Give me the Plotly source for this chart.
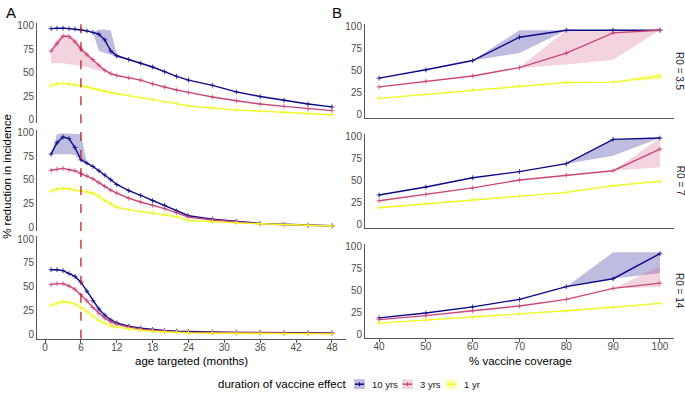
import plotly.graph_objects as go
from plotly.subplots import make_subplots

# ---------------- data ----------------
ages = [1, 2, 3, 4, 5, 6, 7, 8, 9, 10, 11, 12, 14, 16, 18, 20, 22, 24, 28, 32, 36, 40, 44, 48]
coverage = [40, 50, 60, 70, 80, 90, 100]
durations = ["10 yrs", "3 yrs", "1 yr"]
r0_labels = ["R0 = 3.5", "R0 = 7", "R0 = 14"]
age_ticks = [0, 6, 12, 18, 24, 30, 36, 42, 48]
cov_ticks = [40, 50, 60, 70, 80, 90, 100]
y_ticks = [0, 25, 50, 75, 100]
vline_month = 6

# Panel A: reduction by age targeted
a35_10 = [97, 97.5, 97.5, 97, 96.5, 95.5, 94.5, 93, 91, 85, 73, 68, 64, 60, 56, 51, 46, 42, 36.5, 29.5, 24.5, 20.5, 16.5, 13.5]
a35_10_lo = [97, 97.5, 97.5, 97, 96.5, 95.5, 94.5, 93, 73, 71, 69, 66, 64, 60, 56, 51, 46, 42, 36.5, 29.5, 24.5, 20.5, 16.5, 13.5]
a35_10_hi = [97, 97.5, 97.5, 97, 96.5, 95.5, 94.5, 93, 96, 96, 95, 69, 64, 60, 56, 51, 46, 42, 36.5, 29.5, 24.5, 20.5, 16.5, 13.5]
a35_3 = [73, 81, 89, 88.5, 83, 75, 69, 64, 58, 52.5, 49, 47, 44.5, 42, 38, 34.5, 31.5, 29, 24, 20, 16.5, 14, 11.5, 9.5]
a35_3_lo = [60, 60, 60, 59, 58, 57, 56, 54, 52, 52.5, 49, 47, 44.5, 42, 38, 34.5, 31.5, 29, 24, 20, 16.5, 14, 11.5, 9.5]
a35_3_hi = [75, 86, 90, 90, 86, 79, 71, 65, 58, 52.5, 49, 47, 44.5, 42, 38, 34.5, 31.5, 29, 24, 20, 16.5, 14, 11.5, 9.5]
a35_1 = [36, 38, 38.5, 38, 37, 36, 34.5, 33, 31.5, 30, 28.5, 27.5, 25.5, 23.5, 21.5, 19, 17, 14.5, 12, 10, 9, 8, 6.5, 5]

a7_10 = [77, 89, 95, 93.5, 84, 71, 67.5, 64, 59.5, 55, 50, 45, 38.5, 33.5, 28, 23, 17, 12, 8.5, 6, 4, 3, 2, 1.5]
a7_10_lo = [77, 77, 77, 77, 76, 70, 67.5, 64, 59.5, 55, 50, 45, 38.5, 33.5, 28, 23, 17, 12, 8.5, 6, 4, 3, 2, 1.5]
a7_10_hi = [77, 98, 99, 98.5, 98, 98, 67.5, 64, 59.5, 55, 50, 45, 38.5, 33.5, 28, 23, 17, 12, 8.5, 6, 4, 3, 2, 1.5]
a7_3 = [60, 61, 62, 60.5, 59.5, 56.5, 54, 51, 47, 43, 39, 36, 30.5, 26.5, 23, 19.5, 15, 10.5, 7.5, 5.5, 3.5, 2.5, 1.8, 1.2]
a7_1 = [38, 40, 41, 40.5, 39, 38, 37.5, 36, 32.5, 28, 24.5, 21, 18.5, 16.5, 15, 13, 11, 7, 5.5, 4.5, 3.5, 2.5, 2, 1.2]

a14_10 = [68, 68, 67, 64, 61, 55, 45.5, 35.5, 27, 20.5, 15.5, 12.5, 9, 7, 5.5, 4.5, 3.8, 3.3, 2.9, 2.6, 2.4, 2.2, 2.1, 2]
a14_3 = [52.5, 53.5, 53.5, 51, 47.5, 42, 35.5, 28.5, 22.5, 17.5, 13.5, 11, 8, 6, 4.8, 3.8, 3.1, 2.7, 2.3, 2.1, 2, 1.9, 1.8, 1.7]
a14_1 = [31, 33, 34.5, 34, 32, 28.5, 24, 19, 15, 12, 9.5, 8, 6.2, 4.8, 3.8, 3, 2.4, 2, 1.7, 1.5, 1.3, 1.2, 1.1, 1]

# Panel B: reduction by coverage
b35_10 = [41.5, 51, 61.5, 88, 96, 96, 96]
b35_10_lo = [41.5, 51, 61.5, 70, 96, 96, 96]
b35_10_hi = [41.5, 51, 61.5, 96, 96, 96, 96]
b35_3 = [31.5, 38, 44, 53.5, 70, 93, 96]
b35_3_lo = [31.5, 38, 44, 53, 57, 62.5, 96]
b35_3_hi = [31.5, 38, 44, 54, 96, 96, 96]
b35_1 = [18.5, 23, 28, 32.5, 36.5, 37, 43.5]
b35_1_lo = [18.5, 23, 28, 32.5, 36.5, 37, 40]
b35_1_hi = [18.5, 23, 28, 32.5, 36.5, 37, 47.5]

b7_10 = [33.5, 42.5, 53, 60, 69, 96.5, 98]
b7_10_lo = [33.5, 42.5, 53, 60, 69, 78, 98]
b7_10_hi = [33.5, 42.5, 53, 60, 69, 96.5, 98]
b7_3 = [27, 34, 41.5, 50.5, 56, 61, 85.5]
b7_3_lo = [27, 34, 41.5, 50.5, 56, 61, 65]
b7_3_hi = [27, 34, 41.5, 50.5, 56, 61, 98]
b7_1 = [19, 23.5, 28, 32, 36.5, 44, 49]

b14_10 = [19, 24.5, 31.5, 40, 54.5, 63.5, 92]
b14_10_lo = [19, 24.5, 31.5, 40, 54.5, 63.5, 70]
b14_10_hi = [19, 24.5, 31.5, 40, 54.5, 93.5, 93.5]
b14_3 = [17, 21.5, 27, 32.5, 40, 52.5, 58.5]
b14_3_lo = [17, 21.5, 27, 32.5, 40, 52.5, 54]
b14_3_hi = [17, 21.5, 27, 32.5, 40, 52.5, 77.5]
b14_1 = [13, 16.5, 19.5, 23.5, 27, 31, 35.5]

# ---------------- styling ----------------
line_colors = ["#0D0887", "#CC4678", "#F0F921"]
band_colors = ["rgba(13,8,135,0.27)", "rgba(204,70,120,0.24)", "rgba(240,249,33,0.35)"]
W, H = 685, 402
FONT = "Liberation Sans, Arial, sans-serif"

left_rows = [
    [(a35_10, a35_10_lo, a35_10_hi), (a35_3, a35_3_lo, a35_3_hi), (a35_1, None, None)],
    [(a7_10, a7_10_lo, a7_10_hi), (a7_3, None, None), (a7_1, None, None)],
    [(a14_10, None, None), (a14_3, None, None), (a14_1, None, None)],
]
right_rows = [
    [(b35_10, b35_10_lo, b35_10_hi), (b35_3, b35_3_lo, b35_3_hi), (b35_1, b35_1_lo, b35_1_hi)],
    [(b7_10, b7_10_lo, b7_10_hi), (b7_3, b7_3_lo, b7_3_hi), (b7_1, None, None)],
    [(b14_10, b14_10_lo, b14_10_hi), (b14_3, b14_3_lo, b14_3_hi), (b14_1, None, None)],
]

fig = make_subplots(rows=3, cols=2)


def px_x(a, b):
    return [a / W, b / W]


def px_y(top, bottom):
    return [1 - bottom / H, 1 - top / H]


def pxx(v):
    return v / W


def pxy(v):
    return 1 - v / H


left_x_dom = px_x(37, 346)
right_x_dom = px_x(365, 674)
left_y_doms = [px_y(20.2, 121.8), px_y(128.1, 230.8), px_y(236.1, 339.9)]
right_y_doms = [px_y(21.3, 116.6), px_y(132.3, 227.9), px_y(244.0, 339.3)]


def add_panel(xs, series, row, col):
    # ribbons first
    for i, (mid, lo, hi) in enumerate(series):
        if lo is None:
            continue
        fig.add_trace(go.Scatter(x=xs, y=lo, mode="lines", line=dict(width=0),
                                 showlegend=False, hoverinfo="skip"), row=row, col=col)
        fig.add_trace(go.Scatter(x=xs, y=hi, mode="lines", line=dict(width=0),
                                 fill="tonexty", fillcolor=band_colors[i],
                                 showlegend=False, hoverinfo="skip"), row=row, col=col)
    for i, (mid, lo, hi) in enumerate(series):
        fig.add_trace(go.Scatter(
            x=xs, y=mid, mode="lines+markers", name=durations[i],
            line=dict(color=line_colors[i], width=1.4),
            marker=dict(symbol="cross-thin", size=3.5, line=dict(width=0.8, color=line_colors[i]),
                        color=line_colors[i]),
            showlegend=False), row=row, col=col)


for r in range(3):
    add_panel(ages, left_rows[r], r + 1, 1)
    add_panel(coverage, right_rows[r], r + 1, 2)

tick_font = dict(family=FONT, size=10, color="#4D4D4D")
axis_col = "#555555"

for r in range(3):
    li = 2 * r + 1
    ri = 2 * r + 2
    lx = "xaxis" if li == 1 else f"xaxis{li}"
    ly = "yaxis" if li == 1 else f"yaxis{li}"
    rx = f"xaxis{ri}"
    ry = f"yaxis{ri}"
    bottom = (r == 2)
    common_x = dict(linecolor=axis_col, linewidth=1, ticklen=3, tickcolor=axis_col,
                    showgrid=False, zeroline=False, tickfont=tick_font, ticklabelstandoff=-4)
    common_y = dict(range=[-4, 103], tickvals=y_ticks, showline=True, linecolor=axis_col, linewidth=1,
                    ticks="", showgrid=False, zeroline=False, tickfont=tick_font, ticklabelstandoff=0)
    fig.layout[lx].update(domain=left_x_dom, range=[-1.35, 50.35], tickvals=age_ticks,
                          showticklabels=bottom, showline=bottom,
                          ticks="outside" if bottom else "", **common_x)
    fig.layout[ly].update(domain=left_y_doms[r], **common_y)
    fig.layout[rx].update(domain=right_x_dom, range=[37, 103], tickvals=cov_ticks,
                          showticklabels=bottom, showline=True,
                          ticks="outside" if bottom else "", **common_x)
    fig.layout[ry].update(domain=right_y_doms[r], **common_y)
    # dashed vertical line at 6 months
    fig.add_shape(type="line", x0=vline_month, x1=vline_month, y0=0, y1=1,
                  xref="x" if li == 1 else f"x{li}", yref=("y" if li == 1 else f"y{li}") + " domain",
                  line=dict(color="#B8252E", width=1.3, dash="dash"))
    # strip label
    yc = (right_y_doms[r][0] + right_y_doms[r][1]) / 2
    fig.add_annotation(text=r0_labels[r], x=pxx(680), y=yc, xref="paper", yref="paper",
                       textangle=90, showarrow=False, font=dict(family=FONT, size=10, color="#1A1A1A"),
                       xanchor="center", yanchor="middle")

title_font = dict(family=FONT, size=11.5, color="#000000")
fig.add_annotation(text="A", x=pxx(11), y=pxy(10), xref="paper", yref="paper", showarrow=False,
                   font=dict(family=FONT, size=15, color="#000"), xanchor="center", yanchor="middle")
fig.add_annotation(text="B", x=pxx(337), y=pxy(10), xref="paper", yref="paper", showarrow=False,
                   font=dict(family=FONT, size=15, color="#000"), xanchor="center", yanchor="middle")
fig.add_annotation(text="% reduction in incidence", x=pxx(7), y=pxy(176), xref="paper", yref="paper",
                   textangle=-90, showarrow=False, font=title_font, xanchor="center", yanchor="middle")
fig.add_annotation(text="age targeted (months)", x=pxx(191), y=pxy(363), xref="paper", yref="paper",
                   showarrow=False, font=title_font, xanchor="center", yanchor="middle")
fig.add_annotation(text="% vaccine coverage", x=pxx(520), y=pxy(363), xref="paper", yref="paper",
                   showarrow=False, font=title_font, xanchor="center", yanchor="middle")

# ---------------- legend (drawn as keys + labels) ----------------
leg_y = 386
fig.add_annotation(text="duration of vaccine effect", x=pxx(348), y=pxy(leg_y), xref="paper", yref="paper",
                   showarrow=False, font=title_font, xanchor="right", yanchor="middle")
key_x = [354, 402, 446]
for i, name in enumerate(durations):
    kx = key_x[i]
    fig.add_shape(type="rect", x0=pxx(kx), x1=pxx(kx + 11), y0=pxy(leg_y + 5), y1=pxy(leg_y - 5),
                  xref="paper", yref="paper", line=dict(width=0), fillcolor=band_colors[i])
    fig.add_shape(type="line", x0=pxx(kx + 1), x1=pxx(kx + 10), y0=pxy(leg_y), y1=pxy(leg_y),
                  xref="paper", yref="paper", line=dict(color=line_colors[i], width=1.5))
    fig.add_shape(type="line", x0=pxx(kx + 5.5), x1=pxx(kx + 5.5), y0=pxy(leg_y - 2), y1=pxy(leg_y + 2),
                  xref="paper", yref="paper", line=dict(color=line_colors[i], width=1))
    fig.add_annotation(text=name, x=pxx(kx + 16), y=pxy(leg_y), xref="paper", yref="paper",
                       showarrow=False, font=dict(family=FONT, size=9.5, color="#1A1A1A"),
                       xanchor="left", yanchor="middle")

fig.update_layout(
    width=W, height=H, margin=dict(l=0, r=0, t=0, b=0),
    paper_bgcolor="white", plot_bgcolor="white",
    font=dict(family=FONT),
    showlegend=False,
)

fig.write_html("out.html", config={"displayModeBar": False},
               post_script="document.body.style.margin='0';document.body.style.padding='0';")
